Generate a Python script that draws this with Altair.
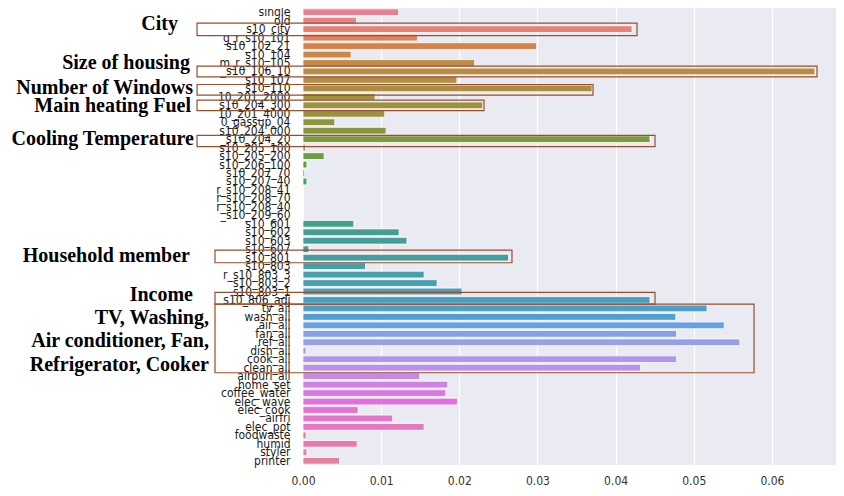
import math
import colorsys
import altair as alt
import pandas as pd

# ---------------- data ----------------
features = [
    "single", "old", "s10_city", "g_r_s10_101", "s10_102_21", "s10_104",
    "m_r_s10_105", "_s10_106_10", "s10_107", "s10_110", "10_201_2000",
    "s10_204_300", "10_201_4000", "0_gassup_04", "s10_204_000", "_s10_204_20",
    "s10_205_100", "s10_205_200", "s10_206_100", "s10_207_70", "s10_207_40",
    "r_s10_208_41", "r_s10_208_70", "r_s10_208_40", "_s10_209_60",
    "s10_601", "s10_602", "s10_603", "s10_607", "s10_801", "s10_803",
    "r_s10_803_3", "s10_803_2", "s10_803_1", "s10_806_adj",
    "tv_all", "wash_all", "air_all", "fan_all", "ref_all", "dish_all",
    "cook_all", "clean_all", "airpuri_all", "home_set", "coffee_water",
    "elec_wave", "elec_cook", "airfri", "elec_pot", "foodwaste", "humid",
    "styler", "printer",
]
importance = [
    0.01225, 0.00684, 0.0421, 0.01464, 0.0299, 0.00616,
    0.02197, 0.0655, 0.0197, 0.0370, 0.00923,
    0.0230, 0.01046, 0.00407, 0.01064, 0.0444,
    0.0003, 0.0027, 0.0005, 0.0002, 0.0005,
    0.0, 0.0, 0.0, 0.0,
    0.0065, 0.0123, 0.0133, 0.00075, 0.0263, 0.0080,
    0.0155, 0.01716, 0.02035, 0.0444,
    0.0517, 0.0477, 0.0539, 0.0478, 0.0559, 0.0004,
    0.0478, 0.0432, 0.01494, 0.01852, 0.01827,
    0.01976, 0.00705, 0.01148, 0.0155, 0.0004, 0.00693,
    0.0005, 0.00467,
]
x_ticks = [0.0, 0.01, 0.02, 0.03, 0.04, 0.05, 0.06]

# annotation boxes (row-index span, x extent in data units)
box_y0 = [1.29, 6.36, 8.54, 10.38, 14.55, 28.1, 33.1, 34.5]
box_y1 = [2.77, 7.65, 9.80, 11.62, 15.88, 29.6, 34.5, 42.6]
box_x0 = [-0.01356, -0.01356, -0.01356, -0.01356, -0.01356, -0.01126, -0.01126, -0.01126]
box_x1 = [0.04274, 0.06577, 0.03711, 0.02316, 0.04504, 0.02674, 0.04504, 0.05771]

# annotation labels
ann_text = ["City", "Size of housing", "Number of Windows", "Main heating Fuel",
            "Cooling Temperature", "Household member", "Income",
            "TV, Washing,", "Air conditioner, Fan,", "Refrigerator, Cooker"]
ann_y = [1.4, 6.0, 8.95, 11.05, 15.0, 28.85, 33.4, 36.1, 38.9, 41.7]
ann_x = [-0.0160, -0.01446, -0.01408, -0.01433, -0.01395, -0.01446, -0.01408,
         -0.01203, -0.01203, -0.01203]

# ---------------- seaborn-like husl palette ----------------
_m = [[3.2406, -1.5372, -0.4986], [-0.9689, 1.8758, 0.0415], [0.0557, -0.2040, 1.0570]]
_refU, _refV = 0.19784, 0.46834


def _max_chroma(L, H):
    hrad = math.radians(H)
    sinH, cosH = math.sin(hrad), math.cos(hrad)
    sub1 = (L + 16) ** 3 / 1560896.0
    sub2 = sub1 if sub1 > 0.008856 else L / 903.3
    result = float("inf")
    for m1, m2, m3 in _m:
        top = (0.99915 * m1 + 1.05122 * m2 + 1.14460 * m3) * sub2
        rbottom = 0.86330 * m3 - 0.17266 * m2
        lbottom = 0.12949 * m3 - 0.38848 * m1
        bottom = (rbottom * sinH + lbottom * cosH) * sub2
        for t in (0.0, 1.0):
            C = L * (top - 1.05122 * t) / (bottom + 0.17266 * sinH * t)
            if 0.0 < C < result:
                result = C
    return result


def _f_inv(t):
    return t ** 3 if t ** 3 > 0.008856 else (116.0 * t - 16.0) / 903.3


def _from_linear(c):
    return 12.92 * c if c <= 0.0031308 else 1.055 * c ** (1 / 2.4) - 0.055


def husl_to_rgb(h, s, l):
    C = _max_chroma(l, h) / 100.0 * s
    hrad = math.radians(h)
    U, V = math.cos(hrad) * C, math.sin(hrad) * C
    varY = _f_inv((l + 16.0) / 116.0)
    varU = U / (13.0 * l) + _refU
    varV = V / (13.0 * l) + _refV
    Y = varY
    X = 0.0 - (9.0 * Y * varU) / ((varU - 4.0) * varV - varU * varV)
    Z = (9.0 * Y - 15.0 * varV * Y - varV * X) / (3.0 * varV)
    rgb = [_from_linear(r[0] * X + r[1] * Y + r[2] * Z) for r in _m]
    return [min(1.0, max(0.0, v)) for v in rgb]


def palette(n):
    out = []
    for i in range(n):
        h = ((i / n) + 0.01) % 1 * 359
        r, g, b = husl_to_rgb(h, 0.9 * 99, 0.65 * 99)
        hh, ll, ss = colorsys.rgb_to_hls(r, g, b)
        r, g, b = colorsys.hls_to_rgb(hh, ll, ss * 0.75)
        out.append("#%02x%02x%02x" % (round(r * 255), round(g * 255), round(b * 255)))
    return out


colors = palette(len(features))

# ---------------- chart ----------------
df = pd.DataFrame({"feature": features, "importance": importance})
boxes = pd.DataFrame({"y0": box_y0, "y1": box_y1, "x0": box_x0, "x1": box_x1})
notes = pd.DataFrame({"text": ann_text, "tx": ann_x, "ty": ann_y})

XMAX = 0.0682
label_font = "Liberation Sans Narrow, DejaVu Sans Condensed, Arial Narrow, Liberation Sans, sans-serif"
x_scale = alt.Scale(domain=[0, XMAX], nice=False, zero=False)
idx_scale = alt.Scale(domain=[-0.5, len(features) - 0.5], reverse=True, nice=False, zero=False)

bars = alt.Chart(df).mark_bar(stroke="white", strokeWidth=0.8).encode(
    y=alt.Y("feature:N", sort=features,
            scale=alt.Scale(paddingInner=0.2, paddingOuter=0.1),
            axis=alt.Axis(title=None, ticks=False, domain=False, labelOverlap=False,
                          labelFont=label_font, labelFontSize=12, labelColor="#1a1a1a",
                          labelPadding=13, labelLimit=200)),
    x=alt.X("importance:Q", scale=x_scale,
            axis=alt.Axis(title=None, values=x_ticks, format=".2f", ticks=False, domain=False,
                          grid=True, gridColor="white", gridWidth=1.3, labelFlush=False,
                          labelFont=label_font, labelFontSize=12, labelColor="#333333",
                          labelPadding=10)),
    color=alt.Color("feature:N", scale=alt.Scale(domain=features, range=colors), legend=None),
)

rects = alt.Chart(boxes).mark_rect(filled=False, stroke="#9a4e2c", strokeWidth=1.2).encode(
    y=alt.Y("y0:Q", scale=idx_scale, axis=None),
    y2="y1:Q",
    x=alt.X("x0:Q", scale=x_scale, axis=None),
    x2="x1:Q",
)

labels = alt.Chart(notes).mark_text(
    align="right", baseline="middle", font="Liberation Serif, Times New Roman, serif",
    fontWeight="bold", fontSize=20, color="black",
).encode(
    y=alt.Y("ty:Q", scale=idx_scale, axis=None),
    x=alt.X("tx:Q", scale=x_scale, axis=None),
    text="text:N",
)

chart = alt.layer(bars, rects, labels).resolve_scale(
    x="independent", y="independent"
).properties(
    width=533, height=457,
    autosize=alt.AutoSizeParams(type="none"),
    padding={"left": 295, "top": 0, "right": 0, "bottom": 22},
).configure(
    background="white",
).configure_view(
    fill="#EAEAF2", strokeWidth=0,
)

chart.save("out.html", embed_options={"renderer": "svg", "actions": False})
